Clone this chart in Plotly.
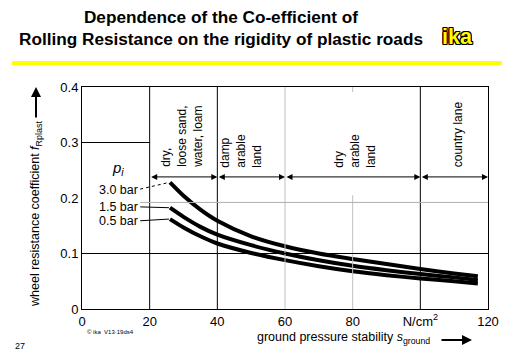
import plotly.graph_objects as go

# ---------------- data ----------------
x_stab = [26, 30, 35, 40, 50, 60, 70, 80, 90, 100, 110, 117]
f_30bar = [0.228, 0.204, 0.179, 0.159, 0.131, 0.113, 0.100, 0.090, 0.081, 0.072, 0.064, 0.059]
f_15bar = [0.1825, 0.166, 0.148, 0.134, 0.115, 0.100, 0.088, 0.078, 0.070, 0.063, 0.057, 0.052]
f_05bar = [0.162, 0.147, 0.131, 0.118, 0.101, 0.088, 0.077, 0.068, 0.061, 0.055, 0.050, 0.046]
series_names = ["3.0 bar", "1.5 bar", "0.5 bar"]
label_y = [0.214, 0.184, 0.159]
label_x = 17.2

x_ticks = [0, 20, 40, 60, 80, 100, 120]
x_ticktext = ["0", "20", "40", "60", "80", "N/cm<sup>2</sup>", "120"]
y_ticks = [0, 0.1, 0.2, 0.3, 0.4]
y_ticktext = ["0", "0.1", "0.2", "0.3", "0.4"]

zone_bounds = [20, 40, 60, 100, 120]
zone_labels = ["dry,<br>loose sand,<br>water, loam", "damp<br>arable<br>land",
               "dry<br>arable<br>land", "country lane"]
zone_label_x = [29.6, 47, 80.7, 111]
black_vlines = [20, 40, 100]

W, H = 512, 354
L, R, T, B = 82, 24, 87, 45
PW, PH = W - L - R, H - T - B
def px(x): return (x - L) / PW
def py(y): return (H - B - y) / PH

FONT = "Liberation Sans, Arial, sans-serif"

fig = go.Figure()
series = [f_30bar, f_15bar, f_05bar]
for name, ys in zip(series_names, series):
    fig.add_trace(go.Scatter(x=x_stab, y=ys, mode="lines", name=name,
                             line=dict(color="black", width=4, shape="spline", smoothing=0.8),
                             showlegend=False, hoverinfo="skip"))

shapes = []
for v in black_vlines:
    shapes.append(dict(type="line", xref="x", yref="y", x0=v, x1=v, y0=0, y1=0.4,
                       line=dict(color="black", width=1)))
shapes.append(dict(type="line", xref="x", yref="y", x0=60, x1=60, y0=0, y1=0.4,
                   line=dict(color="#c0c0c0", width=1)))
shapes.append(dict(type="line", xref="x", yref="y", x0=80, x1=80, y0=0, y1=0.205,
                   line=dict(color="#c0c0c0", width=1)))
shapes.append(dict(type="line", xref="x", yref="y", x0=80, x1=80, y0=0.391, y1=0.4,
                   line=dict(color="#c0c0c0", width=1)))
shapes.append(dict(type="line", xref="x", yref="y", x0=0, x1=120, y0=0.1, y1=0.1,
                   line=dict(color="black", width=1)))
shapes.append(dict(type="line", xref="x", yref="y", x0=0, x1=20, y0=0.3, y1=0.3,
                   line=dict(color="black", width=1)))
shapes.append(dict(type="line", xref="x", yref="y", x0=label_x, x1=120, y0=0.192, y1=0.192,
                   line=dict(color="#b0b0b0", width=1)))
for i, ys in enumerate(series):
    shapes.append(dict(type="line", xref="x", yref="y", x0=label_x, x1=x_stab[0] - 0.3,
                       y0=label_y[i] + (0.002 if i == 0 else 0), y1=ys[0],
                       line=dict(color="black", width=1, dash="dot" if i == 0 else "solid")))
shapes.append(dict(type="line", xref="paper", yref="paper", x0=px(12), x1=px(502),
                   y0=py(63), y1=py(63), line=dict(color="#ffff00", width=4)))

ann = []
def pann(x, y, text, size, xanchor="center", yanchor="middle", **kw):
    d = dict(xref="paper", yref="paper", x=px(x), y=py(y), text=text, showarrow=False,
             xanchor=xanchor, yanchor=yanchor,
             font=dict(family=FONT, size=size, color=kw.pop("color", "black"),
                       **kw.pop("fontkw", {})))
    d.update(kw)
    ann.append(d)

pann(221, 28, "<b>Dependence of the Co-efficient of<br>Rolling Resistance on the rigidity of plastic roads</b>",
     17.2, align="center")
pann(457, 37, "<b>ika</b>", 21.5, color="#ffff00",
     fontkw=dict(shadow="1px 1px 0 #000, -1px -1px 0 #000, 1px -1px 0 #000, -1px 1px 0 #000, 0 1px 0 #000, 0 -1px 0 #000, 1px 0 0 #000, -1px 0 0 #000"))
for name, ly in zip(series_names, label_y):
    ann.append(dict(xref="x", yref="y", x=label_x, y=ly, text=name, showarrow=False,
                    xanchor="right", yanchor="middle",
                    font=dict(family=FONT, size=12.5, color="black")))
ann.append(dict(xref="x", yref="y", x=10.7, y=0.253, text="<i>p</i><sub><i>i</i></sub>",
                showarrow=False, xanchor="center", yanchor="middle",
                font=dict(family=FONT, size=15, color="black")))
for i, (lab, lx) in enumerate(zip(zone_labels, zone_label_x)):
    ann.append(dict(xref="x", yref="y", x=lx, y=0.251, text=lab, showarrow=False,
                    textangle=-90, xanchor="center", yanchor="bottom", align="left",
                    font=dict(family=FONT, size=12, color="black")))
    ann.append(dict(xref="x", yref="y", axref="x", ayref="y",
                    x=zone_bounds[i + 1], y=0.238, ax=zone_bounds[i], ay=0.238,
                    text="", showarrow=True, arrowside="end+start", arrowhead=2,
                    arrowsize=1.2, arrowwidth=1, arrowcolor="black",
                    standoff=0, startstandoff=0))
pann(36, 214, "wheel resistance coefficient <i>f</i><sub>R<span style='font-size:9px'>plast</span></sub>",
     12.5, textangle=-90)
ann.append(dict(xref="paper", yref="paper", axref="pixel", ayref="pixel",
                x=px(36), y=py(87), ax=0, ay=32, text="", showarrow=True,
                arrowhead=2, arrowsize=1, arrowwidth=2, arrowcolor="black"))
pann(255, 338, "ground pressure stability <i>s</i><sub>ground</sub>", 12.5, xanchor="left")
ann.append(dict(xref="paper", yref="paper", axref="pixel", ayref="pixel",
                x=px(472), y=py(340), ax=-32, ay=0, text="", showarrow=True,
                arrowhead=2, arrowsize=1, arrowwidth=2, arrowcolor="black"))
pann(85, 332, "© ika  V13·19ds4", 6, xanchor="left")
pann(20, 346, "27", 9)

fig.update_layout(
    width=W, height=H, margin=dict(l=L, r=R, t=T, b=B),
    paper_bgcolor="white", plot_bgcolor="white",
    shapes=shapes, annotations=ann, showlegend=False,
    xaxis=dict(range=[0, 120], tickvals=x_ticks, ticktext=x_ticktext, showgrid=False,
               zeroline=False, showline=True, mirror=True, linecolor="black", linewidth=1,
               ticks="", tickfont=dict(family=FONT, size=13, color="black")),
    yaxis=dict(range=[0, 0.4], tickvals=y_ticks, ticktext=y_ticktext, showgrid=False,
               zeroline=False, showline=True, mirror=True, linecolor="black", linewidth=1,
               ticks="", tickfont=dict(family=FONT, size=13, color="black")),
)
fig.write_html("out.html")
